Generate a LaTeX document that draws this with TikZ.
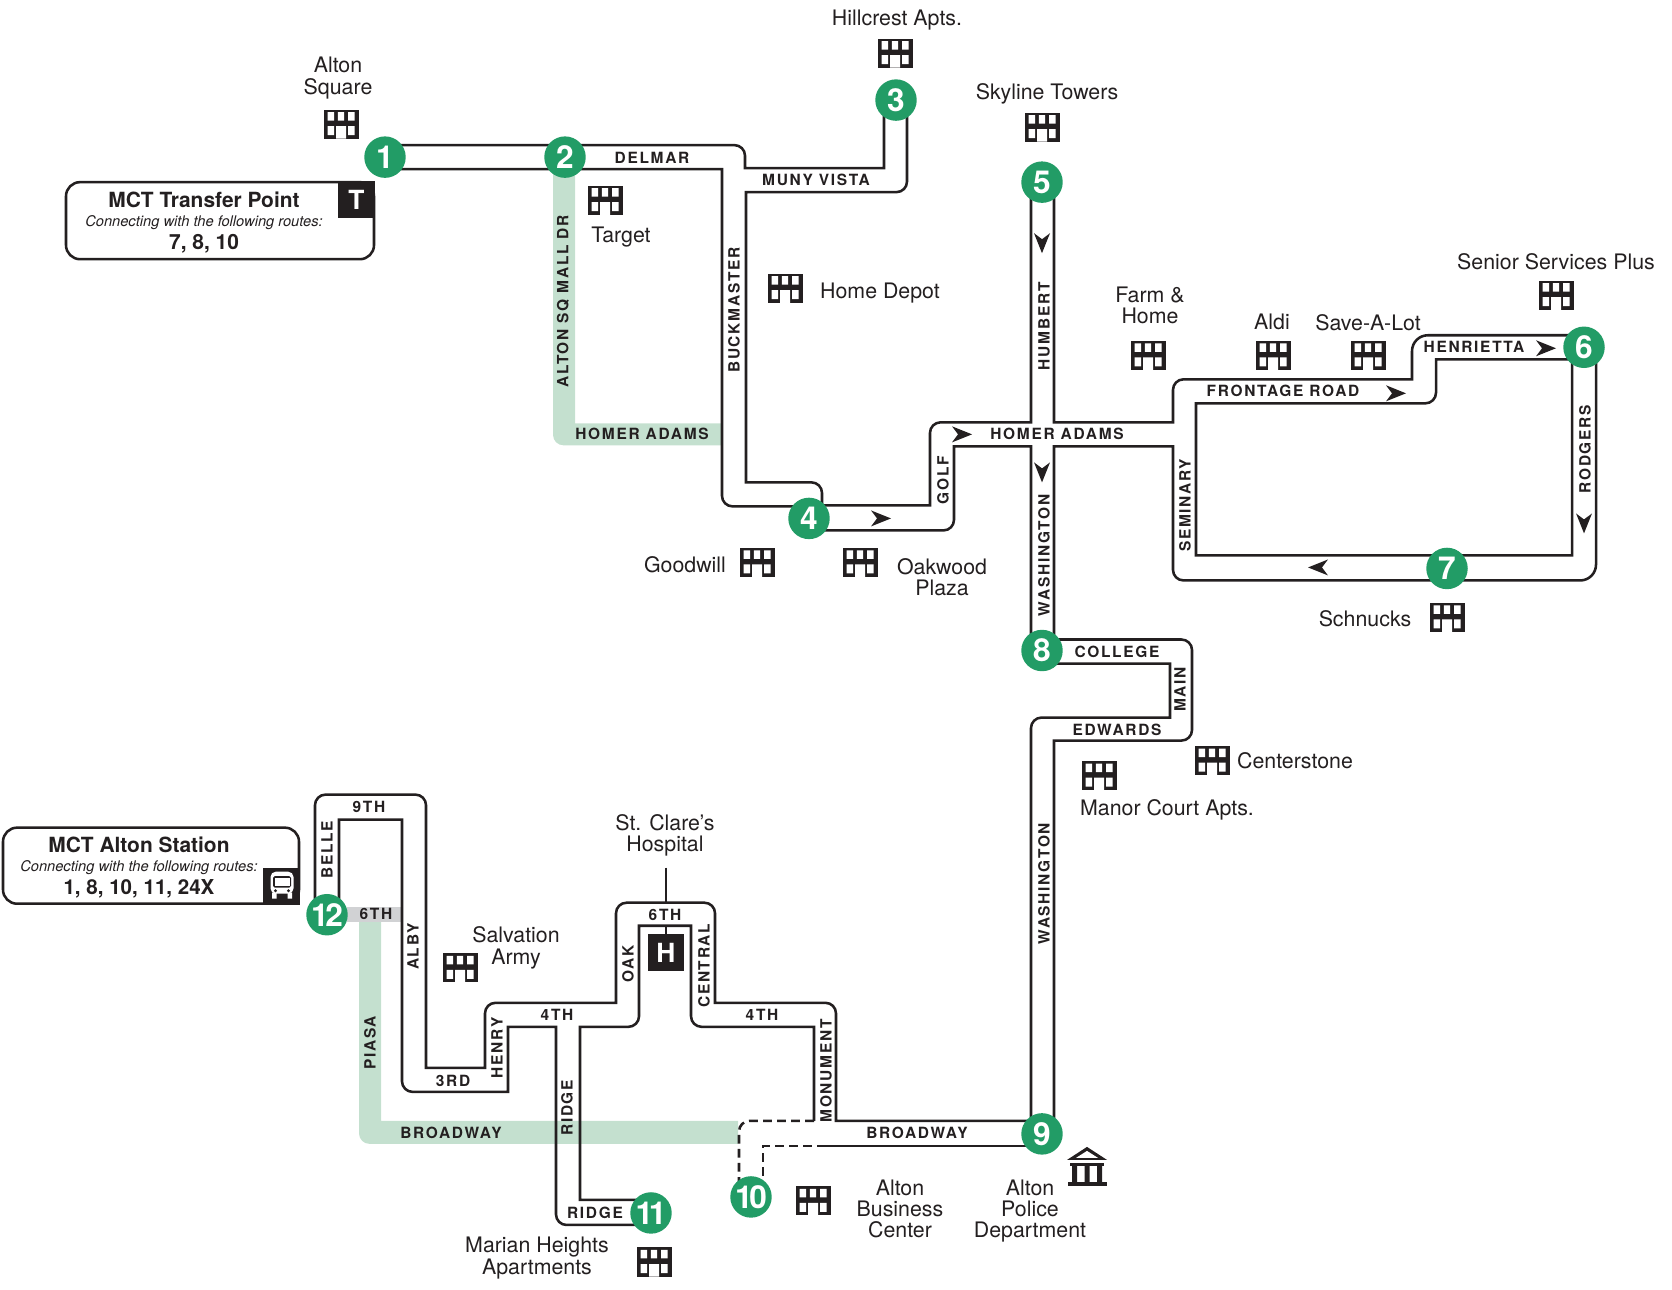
\documentclass[tikz,border=0pt]{standalone}
\usepackage{fontspec}
\setmainfont{TeX Gyre Heros}
\newfontfamily\streetfont[LetterSpace=11]{TeX Gyre Heros}
\definecolor{stopgreen}{HTML}{229C66}
\definecolor{bandgreen}{HTML}{C4E0CF}
\definecolor{bandgray}{HTML}{D1D2D4}
\definecolor{inkblack}{HTML}{231F20}
\tikzset{
  street/.style={draw=inkblack, line width=1.45pt},
  closed/.style={street, dash pattern=on 5pt off 3pt},
  stopdot/.style={circle, fill=stopgreen, text=white, inner sep=0pt, minimum size=23.6pt, font=\fontsize{18}{18}\selectfont\bfseries},
  streetname/.style={inner sep=0pt, text=inkblack, font=\fontsize{8.8}{9}\streetfont\bfseries},
  place/.style={inner sep=0pt, align=center, text=inkblack, font=\fontsize{12.15}{12.1}\selectfont},
  iconbox/.style={fill=inkblack, text=white, inner sep=0pt, minimum size=21pt, font=\fontsize{15}{15}\selectfont\bfseries},
  boxtitle/.style={inner sep=0pt, text=inkblack, font=\fontsize{11.9}{12}\selectfont\bfseries},
  boxnote/.style={inner sep=0pt, text=inkblack, font=\fontsize{8.35}{8}\selectfont\itshape},
  building/.pic={
    \fill[inkblack] (-17.5,-14.5) rectangle (17.5,14.5);
    \fill[white] (-13.5,-12) rectangle (-7,-3.5) (-3.2,-12) rectangle (3.2,-3.5) (7,-12) rectangle (13.5,-3.5);
    \fill[white] (-13.5,2) rectangle (-7,11) (7,2) rectangle (13.5,11) (-5,2) rectangle (5,14.6);
  },
  flowtip/.pic={
    \fill[inkblack] (10,0) -- (-10,-8) -- (-4,0) -- (-10,8) -- cycle;
  }
}
\begin{document}
\begin{tikzpicture}[x=0.02cm, y=-0.02002cm]
\useasboundingbox (0,0) rectangle (1672,1288.71);
% Shaded streets first so the route lines sit on top
\fill[bandgreen] (553,169) [rounded corners=6pt] -- (553,445) [sharp corners] -- (721,445) -- (721,423) -- (575,423) -- (575,169) -- cycle;
\fill[bandgreen] (359,921) [rounded corners=6pt] -- (359,1143) [sharp corners] -- (738,1143) -- (738,1120) -- (381,1120) -- (381,921) -- cycle;
\fill[bandgray] (347,906) rectangle (402,921);
% Route lines, north part
\draw[street] (385,145) [rounded corners=6pt] -- (745,145) [sharp corners] -- (745,168) -- (884,168) -- (884,100);
\draw[street] (385,169) -- (722,169) [rounded corners=6pt] -- (722,506) -- (809,506);
\draw[street] (907,100) [rounded corners=6pt] -- (907,192) [sharp corners] -- (746,192) -- (746,482) [rounded corners=6pt] -- (822,482) -- (822,505);
\draw[street] (809,505) -- (930,505) [rounded corners=6pt] -- (930,422) [sharp corners] -- (1031,422) -- (1031,182);
\draw[street] (809,530) [rounded corners=6pt] -- (954,530) [sharp corners] -- (954,446) -- (1031,446) -- (1031,650);
\draw[street] (1054,182) -- (1054,422) -- (1173,422) [rounded corners=6pt] -- (1173,379) [sharp corners] -- (1412,379) [rounded corners=9pt] -- (1412,335) -- (1584,335);
\draw[street] (1054,650) -- (1054,446) -- (1173,446) [rounded corners=6pt] -- (1173,580) [rounded corners=9pt] -- (1596,580) -- (1596,347);
\draw[street] (1584,359) -- (1436,359) [rounded corners=6pt] -- (1436,403) [sharp corners] -- (1196,403) -- (1196,555) -- (1572,555) -- (1572,347);
% Route lines, south part
\draw[street] (1042,639) [rounded corners=6pt] -- (1192,639) -- (1192,740) [sharp corners] -- (1054,740) -- (1054,1133);
\draw[street] (1042,663) -- (1170,663) -- (1170,717) [rounded corners=6pt] -- (1031,717) [sharp corners] -- (1031,1133);
\draw[street] (1042,1120) -- (836,1120) [rounded corners=6pt] -- (836,1002) [sharp corners] -- (715,1002) [rounded corners=6pt] -- (715,902) -- (616,902) [sharp corners] -- (616,1002) [rounded corners=6pt] -- (485,1002) [sharp corners] -- (485,1067) -- (426,1067) [rounded corners=6pt] -- (426,794) -- (315,794) -- (315,914);
\draw[street] (1042,1145) -- (826,1145);
\draw[street] (814,1120) -- (814,1026) [rounded corners=6pt] -- (691,1026) [sharp corners] -- (691,925) -- (639,925) [rounded corners=6pt] -- (639,1026) [sharp corners] -- (580,1026) -- (580,1199) -- (651,1199);
\draw[street] (651,1224) [rounded corners=6pt] -- (556,1224) [sharp corners] -- (556,1026) -- (508,1026) -- (508,1091) [rounded corners=6pt] -- (402,1091) [sharp corners] -- (402,819) -- (339,819) -- (339,914);
% Detour to stop 10
\draw[closed] (826,1145) -- (763,1145) -- (763,1196);
\draw[closed] (814,1120) [rounded corners=6pt] -- (739,1120) -- (739,1196);
% Direction of travel
\foreach \x/\y/\r in {881/518/0,962/434/0,1396/393/0,1546/348/0,1042/243/90,1042/472/90,1584/523/90,1318/567/180}
{
  \pic[rotate=-\r] at (\x,\y) {flowtip};
}
% Street names
\foreach \n/\x/\y/\t in {delmar/652/158/DELMAR,muny/816/180/MUNY VISTA,homerw/642/434/HOMER ADAMS,homere/1057/434/HOMER ADAMS,frontage/1283/391/FRONTAGE ROAD,henrietta/1474/347/HENRIETTA,college/1117/651/COLLEGE,edwards/1117/729/EDWARDS,ninth/369/806/9TH,sixthw/376/913/6TH,third/453/1080/3RD,fourthw/557/1014/4TH,sixthe/665/914/6TH,fourthe/762/1014/4TH,broadw/451/1132/BROADWAY,broade/917/1132/BROADWAY,ridgeh/595/1212/RIDGE}
{
  \node[streetname] (st\n) at (\x,\y) {\t};
}
\foreach \n/\x/\y/\t in {mall/563/301/ALTON SQ MALL DR,buck/734/310/BUCKMASTER,golf/943/480/GOLF,humbert/1044/326/HUMBERT,washn/1044/555/WASHINGTON,washs/1044/883/WASHINGTON,seminary/1185/505/SEMINARY,rodgers/1585/449/RODGERS,main/1180/689/MAIN,belle/327/849/BELLE,alby/413/946/ALBY,piasa/370/1042/PIASA,henry/497/1047/HENRY,oak/628/963/OAK,central/704/965/CENTRAL,monument/826/1070/MONUMENT,ridgev/567/1107/RIDGE}
{
  \node[streetname, rotate=90] (st\n) at (\x,\y) {\t};
}
% Stops
\foreach \i/\x/\y/\t in {1/385/157/1,2/565/157/2,3/896/100/3,4/809/518/4,5/1042/182/5,6/1584/347/6,7/1447/568/7,8/1042/650/8,9/1042/1133/9,10/751/1196/{1\kern-2pt 0},11/651/1212/{1\kern-2.5pt 1},12/327/914/{1\kern-2pt 2}}
{
  \node[stopdot] (s\i) at (\x,\y) {\t};
}
% Buildings
\foreach \x/\y in {341/124,895/53,605/200,785/288,1042/127,1148/355,1273/355,1368/355,1556/295,757/562,860/562,1447/617,1212/760,1099/775,460/967,813/1200,654/1261}
{
  \pic at (\x,\y) {building};
}
% Places
\foreach \n/\x/\y/\t in {square/338/78/{Alton\\Square},hillcrest/897/20/{Hillcrest Apts.},skyline/1047/94/{Skyline Towers},target/621/237/{Target},depot/880/293/{Home Depot},farm/1150/305/{Farm \&\\Home},aldi/1272/322/{Aldi},savealot/1368/322/{Save-A-Lot},senior/1556/262/{Senior Services Plus},goodwill/685/564.5/{Goodwill},oakwood/942/576.5/{Oakwood\\Plaza},schnucks/1365/618.5/{Schnucks},centerstone/1295/760/{Centerstone},manor/1167/809/{Manor Court Apts.},clare/665/835/{St. Clare's\\Hospital},salvation/516/947/{Salvation\\Army},marian/537/1257/{Marian Heights\\Apartments},business/900/1208/{Alton\\Business\\Center},police/1030/1210/{Alton\\Police\\Department}}
{
  \node[place] (pl\n) at (\x,\y) {\t};
}
% Transfer point box
\draw[street, rounded corners=8pt] (66,182) rectangle (374,259);
\node[iconbox] (tbox) at (356.5,199.5) {T};
\node[boxtitle] (tname) at (204,199.5) {MCT Transfer Point};
\node[boxnote] (tnote) at (204,222.5) {Connecting with the following routes:};
\node[boxtitle] (troutes) at (204,244) {7, 8, 10};
% Alton station box
\draw[street, rounded corners=8pt] (3,827) rectangle (299,903);
\node[iconbox] (busbox) at (281.5,885.5) {};
\fill[white, rounded corners=3pt] (270.5,871) rectangle (293.5,893);
\fill[white] (272,892) rectangle (276.5,898) (287.5,892) rectangle (292,898);
\fill[inkblack, rounded corners=1pt] (273,875.5) rectangle (291,887);
\fill[white] (274.5,877.5) rectangle (289.5,885.5);
\fill[inkblack] (275.5,890) circle (1.6) (288.5,890) circle (1.6);
\node[boxtitle] (sname) at (139,844) {MCT Alton Station};
\node[boxnote] (snote) at (139,867) {Connecting with the following routes:};
\node[boxtitle, font=\fontsize{11.7}{12}\selectfont\bfseries] (sroutes) at (139,888) {1, 8, 10, 11, 24X};
% Hospital
\node[iconbox] (hbox) at (666,952) {H};
\coordinate (hstem) at (666,867);
\coordinate (hroof) at (666,902);
\coordinate (hceil) at (666,925);
\draw[street] (hstem) -- (hroof);
\draw[street] (hceil) -- (hbox);
% Police department
\fill[inkblack] (1087,1146) -- (1107,1159) -- (1067,1159) -- cycle;
\fill[white] (1087,1150) -- (1098,1157) -- (1076,1157) -- cycle;
\fill[inkblack] (1070,1162) rectangle (1104,1165);
\fill[inkblack] (1072,1165) rectangle (1077,1181) (1084.5,1165) rectangle (1089.5,1181) (1097,1165) rectangle (1102,1181);
\fill[inkblack] (1068,1181) rectangle (1107,1185);
\end{tikzpicture}
\end{document}
